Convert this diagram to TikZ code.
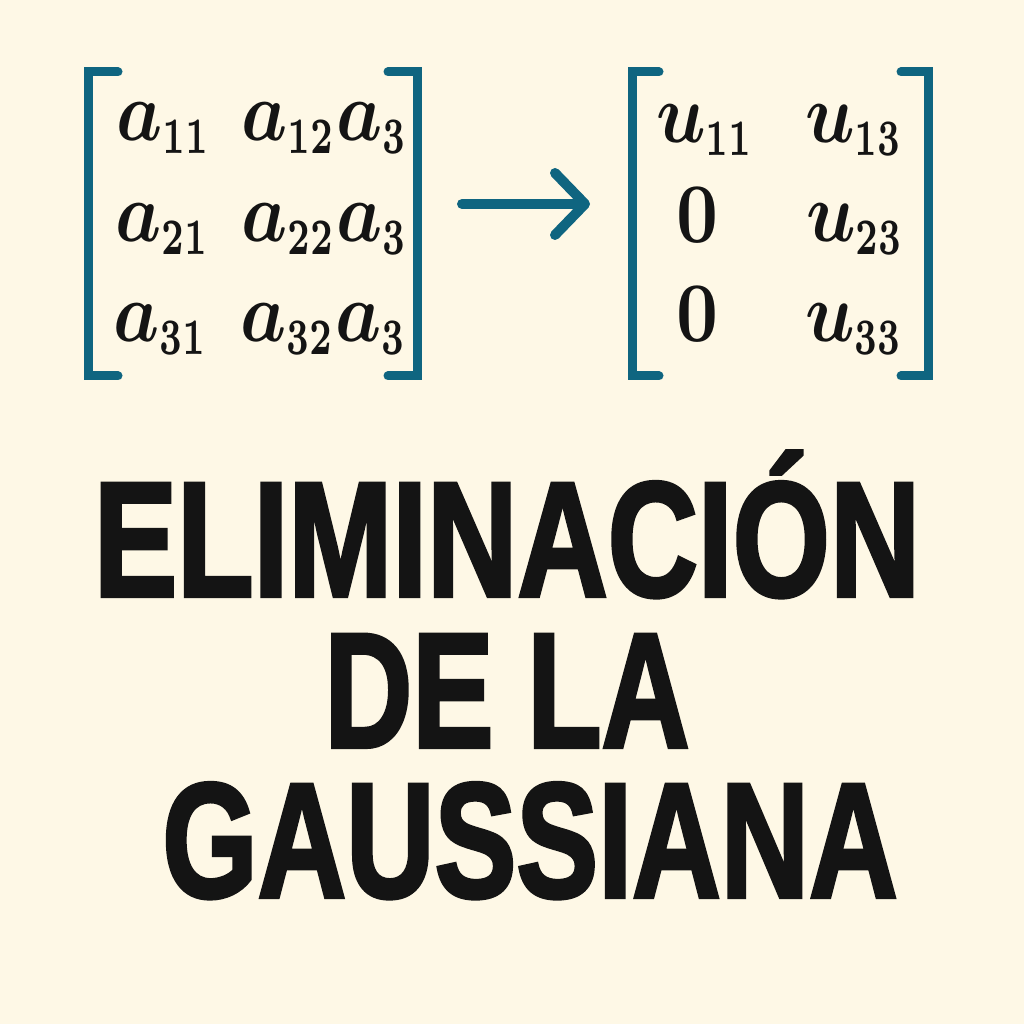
\documentclass[tikz,border=0pt]{standalone}
\usepackage{fontspec}
\usepackage{amsmath}
\usepackage{amssymb}
\usepackage{graphicx}
\usetikzlibrary{arrows.meta}
\newfontfamily\titulo[FakeBold=2.5]{Liberation Sans Bold}
\DeclareMathSizes{10}{10}{6}{5}
\definecolor{fondo}{HTML}{FEF8E6}
\definecolor{azul}{HTML}{0F6580}
\definecolor{tinta}{HTML}{141414}
\newcommand{\celda}[1]{\scalebox{7.3}[8.5]{\fontsize{10}{12}\selectfont\boldmath$#1$}}
\newcommand{\sub}[1]{\scalebox{0.75}[1]{$\scriptstyle #1$}}

\begin{document}
\begin{tikzpicture}[x=1pt, y=1pt]
		\tikzset{entrada/.style={anchor=base west, inner sep=0pt, text=tinta}}
		\tikzset{corchete/.style={draw=azul, line width=9pt, line cap=round, line join=miter}}
		\tikzset{flecha/.style={draw=azul, line width=10pt, line cap=round,
				-{Straight Barb[length=30pt, width=62pt, line cap=round, line join=round]}}}
		\tikzset{titular/.style={anchor=base, inner sep=0pt, text=tinta,
				font=\titulo\fontsize{163.4}{170}\selectfont}}
					%background
					\fill[fondo] (0, 0) rectangle (1024, 1024);
					\useasboundingbox (0, 0) rectangle (1024, 1024);
					%brackets
					\draw[corchete] (118, 952) -- (88, 952) -- (88, 648) -- (118, 648);
					\draw[corchete] (388, 952) -- (417, 952) -- (417, 648) -- (388, 648);
					\draw[corchete] (659, 952) -- (632, 952) -- (632, 648) -- (659, 648);
					\draw[corchete] (901, 952) -- (928, 952) -- (928, 648) -- (901, 648);
					%entries
					\node[entrada] (a11) at (116, 883) {\celda{a_{\sub{11}}}};
					\node[entrada] (a12) at (241, 883) {\celda{a_{\sub{12}}a_{\sub{3}}}};
					\node[entrada] (a21) at (115, 782) {\celda{a_{\sub{21}}}};
					\node[entrada] (a22) at (241, 782) {\celda{a_{\sub{22}}a_{\sub{3}}}};
					\node[entrada] (a31) at (113, 682) {\celda{a_{\sub{31}}}};
					\node[entrada] (a32) at (240, 682) {\celda{a_{\sub{32}}a_{\sub{3}}}};
					\node[entrada] (u11) at (656, 881) {\celda{u_{\sub{11}}}};
					\node[entrada] (u13) at (805, 881) {\celda{u_{\sub{13}}}};
					\node[entrada] (u21) at (676, 781) {\celda{0}};
					\node[entrada] (u23) at (806, 782) {\celda{u_{\sub{23}}}};
					\node[entrada] (u31) at (676, 682) {\celda{0}};
					\node[entrada] (u33) at (805, 682) {\celda{u_{\sub{33}}}};
					%arrow
					\coordinate (ini) at (462, 820);
					\coordinate (fin) at (590, 820);
					\draw[flecha] (ini) -- (fin);
					%title
					\node[titular] (lin1) at (507, 428) {\scalebox{0.765}[1]{ELIMINACIÓN}};
					\node[titular] (lin2) at (507, 277) {\scalebox{0.745}[1]{DE LA}};
					\node[titular] (lin3) at (530, 127) {\scalebox{0.75}[1]{GAUSSIANA}};
					
					\end{tikzpicture}
\end{document}
